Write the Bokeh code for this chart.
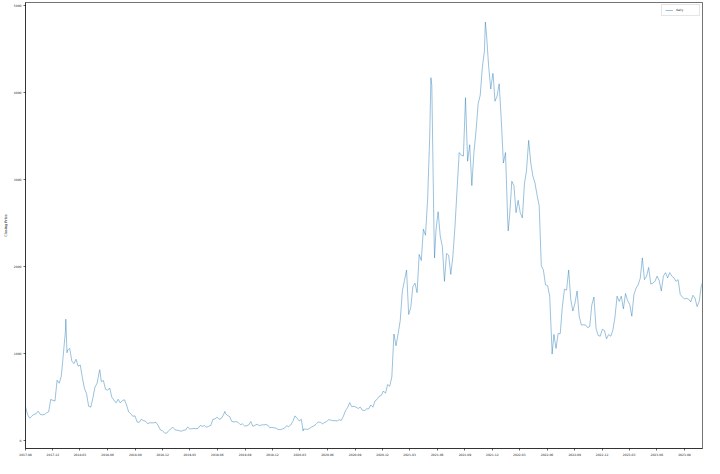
import pandas as pd
from bokeh.plotting import figure
from bokeh.models import (ColumnDataSource, Range1d, DatetimeTickFormatter,
                          FixedTicker, Legend, LegendItem)
from bokeh.embed import file_html
from bokeh.resources import INLINE

# Weekly (Friday) closing prices
close_2017 = [388, 300, 258, 282, 302, 308, 338, 303, 297, 300, 320, 332, 474,
              463, 455, 694, 660, 740]
close_2018 = [1000, 1270, 1040, 1060, 915, 885, 935, 855, 870, 725, 600, 540, 395,
              385, 490, 615, 660, 785, 680, 690, 590, 580, 605, 500, 465, 435,
              475, 435, 460, 470, 410, 330, 310, 280, 285, 215, 210, 245, 230,
              225, 195, 205, 205, 205, 210, 175, 125, 115, 92, 84, 115, 135]
close_2019 = [155, 125, 120, 115, 108, 120, 122, 157, 135, 137, 140, 137, 142,
              175, 164, 173, 155, 165, 175, 245, 250, 270, 245, 255, 295, 310,
              290, 275, 220, 215, 220, 210, 185, 193, 170, 170, 180, 220, 165,
              176, 190, 172, 180, 182, 185, 180, 150, 152, 148, 144, 128, 127]
close_2020 = [134, 143, 171, 162, 180, 222, 285, 258, 227, 245, 133, 132, 130,
              141, 158, 171, 188, 214, 212, 194, 207, 220, 240, 237, 229, 230,
              226, 241, 233, 280, 345, 380, 437, 390, 395, 385, 370, 385, 350,
              346, 365, 366, 410, 385, 455, 475, 510, 520, 570, 545, 645, 625]
close_2021 = [730, 1225, 1090, 1230, 1380, 1720, 1840, 1960, 1450, 1530, 1770,
              1810, 1700, 2140, 2070, 2430, 2360, 2770, 3490, 4080, 2440, 2420,
              2630, 2350, 2230, 1830, 2150, 2130, 1910, 2120, 2460, 2890, 3310,
              3280, 3270, 3940, 3210, 3400, 2930, 3310, 3560, 3870, 3970, 4290,
              4480, 4660, 4300, 4040, 4220, 3900, 3960, 4100, 3680]
close_2022 = [3190, 3310, 2560, 2600, 2980, 2930, 2620, 2760, 2620, 2560, 2950,
              3110, 3450, 3190, 3040, 2960, 2820, 2700, 2010, 1960, 1790, 1780,
              1660, 1090, 1220, 1060, 1230, 1230, 1540, 1740, 1730, 1960, 1620,
              1490, 1580, 1720, 1430, 1330, 1330, 1330, 1300, 1310, 1560, 1650,
              1290, 1210, 1200, 1280, 1265, 1170, 1220, 1200]
close_2023 = [1270, 1420, 1660, 1600, 1660, 1515, 1690, 1610, 1565, 1430, 1680,
              1750, 1790, 1865, 2100, 1850, 1890, 1990, 1800, 1810, 1830, 1890,
              1840, 1720, 1890, 1930, 1870, 1930, 1890, 1870, 1830, 1850, 1680,
              1650, 1630, 1635, 1625, 1595, 1670, 1640, 1540, 1600, 1780]
first_fridays = ["2017-09-01", "2018-01-05", "2019-01-04", "2020-01-03",
                 "2021-01-01", "2022-01-07", "2023-01-06"]

# Extreme daily closes visible in the reference
extra_dates = ["2018-01-13", "2018-01-17", "2018-05-06", "2019-06-26",
               "2020-03-12", "2021-05-11", "2021-05-23", "2021-11-08",
               "2021-12-04", "2022-01-23", "2022-06-18", "2023-10-31"]
extra_values = [1396, 1010, 815, 336, 112, 4170, 2100, 4810, 4200, 2410, 995, 1815]

y_ticks = [0, 1000, 2000, 3000, 4000, 5000]
legend_label = "daily"
y_label = "Closing Price"

frames = []
for start, vals in zip(first_fridays, [close_2017, close_2018, close_2019, close_2020,
                                       close_2021, close_2022, close_2023]):
    frames.append(pd.DataFrame({"date": pd.date_range(start, periods=len(vals), freq="7D"),
                                "close": vals}))
frames.append(pd.DataFrame({"date": pd.to_datetime(extra_dates), "close": extra_values}))
df = pd.concat(frames).sort_values("date").reset_index(drop=True)
src = ColumnDataSource(df)

x_ticks = [int(t.value // 10**6) for t in pd.date_range("2017-09-01", "2023-09-01", freq="3MS")]

p = figure(width=704, height=458, x_axis_type="datetime",
           output_backend="svg", toolbar_location=None,
           x_range=Range1d(pd.Timestamp("2017-09-01"), pd.Timestamp("2023-10-31")),
           y_range=Range1d(-90, 5034),
           min_border_left=2, min_border_right=2, min_border_top=2, min_border_bottom=2)

r = p.line("date", "close", source=src, line_color="#1f77b4", line_width=0.6, line_alpha=0.75)

p.xgrid.visible = False
p.ygrid.visible = False
p.outline_line_color = "black"
p.outline_line_alpha = 0.55
p.outline_line_width = 1
p.background_fill_color = "white"
p.border_fill_color = "white"

fmt = "%Y-%m"
p.xaxis.formatter = DatetimeTickFormatter(years=fmt, months=fmt, days=fmt, hours=fmt,
                                          minutes=fmt, seconds=fmt, milliseconds=fmt,
                                          microseconds=fmt, hourmin=fmt, minsec=fmt)
p.xaxis.ticker = FixedTicker(ticks=x_ticks)
p.yaxis.ticker = FixedTicker(ticks=y_ticks)
p.yaxis.axis_label = y_label

for ax in (p.xaxis[0], p.yaxis[0]):
    ax.axis_line_color = "black"
    ax.axis_line_alpha = 0.55
    ax.major_tick_line_color = "black"
    ax.major_tick_line_alpha = 0.6
    ax.major_tick_out = 2
    ax.major_tick_in = 0
    ax.minor_tick_out = 0
    ax.minor_tick_in = 0
    ax.major_label_text_font = "DejaVu Sans"
    ax.major_label_text_font_size = "3px"
    ax.major_label_text_color = "#222222"
    ax.major_label_standoff = 2
    ax.axis_label_text_font = "DejaVu Sans"
    ax.axis_label_text_font_size = "3.5px"
    ax.axis_label_text_font_style = "normal"
    ax.axis_label_text_color = "#222222"
    ax.axis_label_standoff = 3

legend = Legend(items=[LegendItem(label=legend_label, renderers=[r])],
                location="top_right", label_text_font="DejaVu Sans",
                label_text_font_size="3px", label_text_color="#222222",
                glyph_width=8, glyph_height=4, label_height=4, label_standoff=3,
                padding=3, spacing=0, margin=2,
                border_line_color="#cccccc", border_line_width=0.8,
                background_fill_alpha=0.8)
p.add_layout(legend)

open("out.html", "w").write(file_html(p, INLINE))
